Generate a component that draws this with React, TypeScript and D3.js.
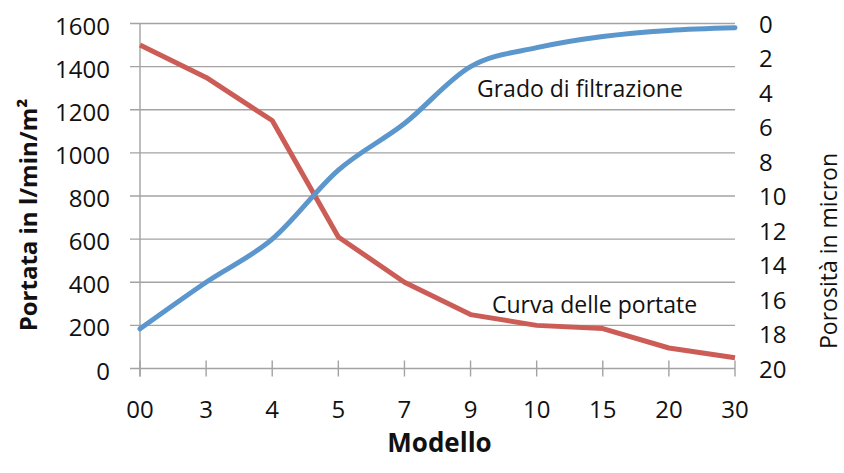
import React, { useEffect, useRef } from 'react';
import * as d3 from 'd3';

const modelli = ['00', '3', '4', '5', '7', '9', '10', '15', '20', '30'];
const portate = [1500, 1350, 1150, 610, 400, 250, 200, 185, 95, 50];
const porosita = [17.7, 15, 12.5, 8.5, 5.8, 2.5, 1.4, 0.75, 0.4, 0.25];
const portataTicks = [0, 200, 400, 600, 800, 1000, 1200, 1400, 1600];
const porositaTicks = [0, 2, 4, 6, 8, 10, 12, 14, 16, 18, 20];

const W = 844;
const H = 473;
const FONT = '"Open Sans", "Noto Sans", sans-serif';

export default function App() {
  const ref = useRef<SVGSVGElement>(null);

  useEffect(() => {
    const svg = d3.select(ref.current);
    svg.selectAll('*').remove();

    const left = 140, right = 735, top = 23.5, bottom = 368.5;

    const x = d3.scalePoint().domain(modelli).range([left, right]);
    const yL = d3.scaleLinear().domain([0, 1600]).range([bottom, top]);
    const yR = d3.scaleLinear().domain([0, 20]).range([top, bottom]);

    // gridlines + left ticks
    svg.append('g')
      .selectAll('line')
      .data(portataTicks)
      .enter()
      .append('line')
      .attr('x1', left - 10)
      .attr('x2', right)
      .attr('y1', d => yL(d))
      .attr('y2', d => yL(d))
      .attr('stroke', '#a3a3a3')
      .attr('stroke-width', 1.4);

    // left axis line
    svg.append('line')
      .attr('x1', left).attr('x2', left)
      .attr('y1', top).attr('y2', bottom + 8)
      .attr('stroke', '#a3a3a3').attr('stroke-width', 1.4);

    // bottom axis ticks
    svg.append('g')
      .selectAll('line')
      .data(modelli)
      .enter()
      .append('line')
      .attr('x1', d => x(d))
      .attr('x2', d => x(d))
      .attr('y1', bottom - 8)
      .attr('y2', bottom + 8)
      .attr('stroke', '#a3a3a3')
      .attr('stroke-width', 1.4);

    // left tick labels
    svg.append('g')
      .selectAll('text')
      .data(portataTicks)
      .enter()
      .append('text')
      .attr('x', 110)
      .attr('y', d => yL(d) + 11)
      .attr('text-anchor', 'end')
      .style('font-family', FONT)
      .style('font-size', '24px')
      .attr('fill', '#111')
      .text(d => d);

    // right tick labels
    svg.append('g')
      .selectAll('text')
      .data(porositaTicks)
      .enter()
      .append('text')
      .attr('x', 759)
      .attr('y', d => yR(d) + 9)
      .attr('text-anchor', 'start')
      .style('font-family', FONT)
      .style('font-size', '24px')
      .attr('fill', '#111')
      .text(d => d);

    // bottom tick labels
    svg.append('g')
      .selectAll('text')
      .data(modelli)
      .enter()
      .append('text')
      .attr('x', d => x(d))
      .attr('y', 418)
      .attr('text-anchor', 'middle')
      .style('font-family', FONT)
      .style('font-size', '24px')
      .attr('fill', '#111')
      .text(d => d);

    // lines
    const redLine = d3.line<number>()
      .x((d, i) => x(modelli[i]))
      .y(d => yL(d));

    const blueLine = d3.line<number>()
      .x((d, i) => x(modelli[i]))
      .y(d => yR(d))
      .curve(d3.curveCatmullRom.alpha(0));

    svg.append('path')
      .attr('d', redLine(portate))
      .attr('fill', 'none')
      .attr('stroke', '#cc5d56')
      .attr('stroke-width', 5)
      .attr('stroke-linejoin', 'round');

    svg.append('path')
      .attr('d', blueLine(porosita))
      .attr('fill', 'none')
      .attr('stroke', '#5b96cd')
      .attr('stroke-width', 5)
      .attr('stroke-linecap', 'round');

    // series labels
    svg.append('text')
      .attr('x', 477).attr('y', 97)
      .style('font-family', FONT).style('font-size', '23px')
      .attr('fill', '#111')
      .text('Grado di filtrazione');

    svg.append('text')
      .attr('x', 492).attr('y', 313)
      .style('font-family', FONT).style('font-size', '23px')
      .attr('fill', '#111')
      .text('Curva delle portate');

    // axis titles
    svg.append('text')
      .attr('transform', 'translate(37,215) rotate(-90)')
      .attr('text-anchor', 'middle')
      .style('font-family', FONT).style('font-size', '24px').style('font-weight', 'bold')
      .attr('fill', '#111')
      .text('Portata in l/min/m²');

    svg.append('text')
      .attr('transform', 'translate(837,251) rotate(-90)')
      .attr('text-anchor', 'middle')
      .style('font-family', FONT).style('font-size', '23px')
      .attr('fill', '#111')
      .text('Porosità in micron');

    svg.append('text')
      .attr('x', (left + right) / 2 + 2).attr('y', 452)
      .attr('text-anchor', 'middle')
      .style('font-family', FONT).style('font-size', '26px').style('font-weight', 'bold')
      .attr('fill', '#111')
      .text('Modello');
  }, []);

  return (
    <div>
      <style>{'body{margin:0;background:#fff}'}</style>
      <svg ref={ref} width={W} height={H} style={{ display: 'block' }}></svg>
    </div>
  );
}
